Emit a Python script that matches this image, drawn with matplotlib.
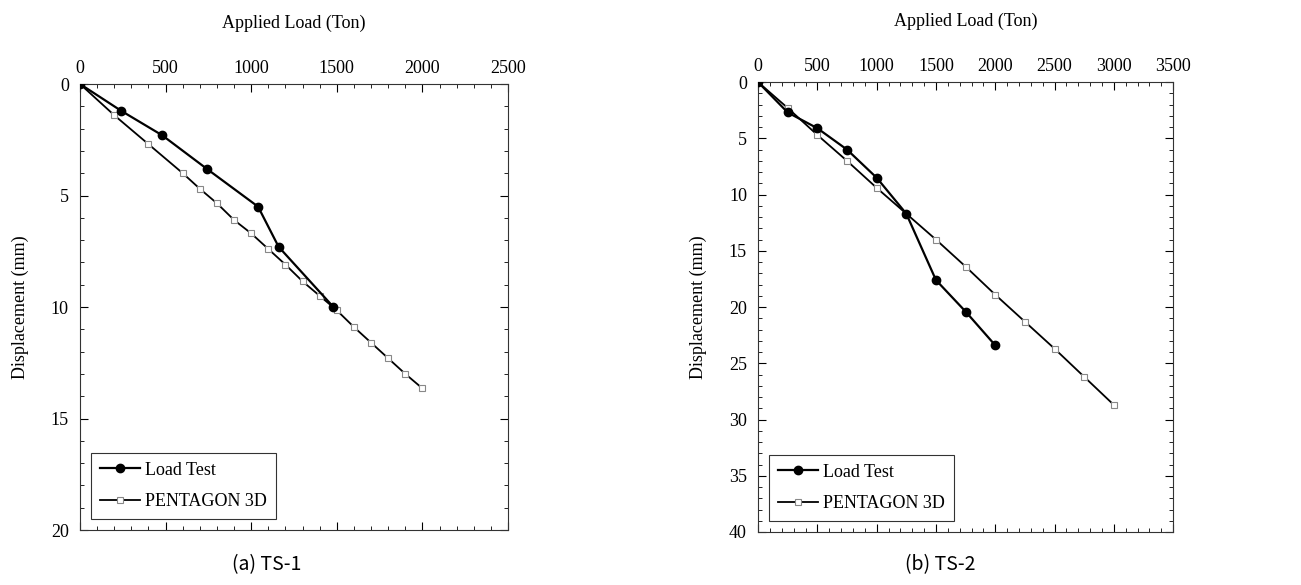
import matplotlib
matplotlib.use("Agg")
from matplotlib import pyplot as plt
from matplotlib.ticker import MultipleLocator

# TS-1 load test and PENTAGON 3D results
ts1_test_load = [0, 240, 480, 740, 1040, 1160, 1480]
ts1_test_disp = [0, 1.2, 2.3, 3.8, 5.5, 7.3, 10.0]
ts1_fem_load = [0, 200, 400, 600, 700, 800, 900, 1000, 1100, 1200, 1300, 1400,
                1500, 1600, 1700, 1800, 1900, 2000]
ts1_fem_disp = [0, 1.4, 2.7, 4.0, 4.7, 5.35, 6.1, 6.7, 7.4, 8.1, 8.85, 9.5,
                10.15, 10.9, 11.6, 12.3, 13.0, 13.65]

# TS-2 load test and PENTAGON 3D results
ts2_test_load = [0, 250, 500, 750, 1000, 1250, 1500, 1750, 2000]
ts2_test_disp = [0, 2.7, 4.1, 6.0, 8.5, 11.7, 17.6, 20.4, 23.4]
ts2_fem_load = [0, 250, 500, 750, 1000, 1250, 1500, 1750, 2000, 2250, 2500, 2750, 3000]
ts2_fem_disp = [0, 2.3, 4.7, 7.0, 9.4, 11.7, 14.0, 16.4, 18.9, 21.3, 23.7, 26.2, 28.7]

plt.rcParams['font.family'] = ['Liberation Serif', 'DejaVu Serif']
plt.rcParams['font.size'] = 13

fig = plt.figure(figsize=(13.01, 5.85), dpi=100)
ax1 = fig.add_axes([0.0615, 0.094, 0.329, 0.7624])
ax2 = fig.add_axes([0.5827, 0.0906, 0.319, 0.769])


def setup(ax, test_load, test_disp, fem_load, fem_disp, xmax, ymax, ystep, caption, cx):
    ax.plot(test_load, test_disp, color='black', linewidth=1.6, marker='o',
            markersize=6, markerfacecolor='black', label='Load Test', zorder=3)
    ax.plot(fem_load, fem_disp, color='black', linewidth=1.3, marker='s',
            markersize=5, markerfacecolor='white', markeredgecolor='#888888',
            markeredgewidth=0.8, label='PENTAGON 3D', zorder=2)
    ax.set_xlim(0, xmax)
    ax.set_ylim(ymax, 0)
    ax.xaxis.set_major_locator(MultipleLocator(500))
    ax.xaxis.set_minor_locator(MultipleLocator(100))
    ax.yaxis.set_major_locator(MultipleLocator(ystep))
    ax.yaxis.set_minor_locator(MultipleLocator(1))
    ax.xaxis.tick_top()
    ax.xaxis.set_label_position('top')
    ax.tick_params(which='both', direction='in', top=True, bottom=True,
                   left=True, right=True, labeltop=True, labelbottom=False)
    ax.tick_params(which='major', length=6, width=0.8, labelsize=13)
    ax.tick_params(axis='y', which='major', pad=8)
    ax.tick_params(axis='x', which='major', pad=5)
    ax.tick_params(which='minor', length=3, width=0.6)
    for s in ax.spines.values():
        s.set_linewidth(0.8)
        s.set_color('#333333')
    ax.set_xlabel('Applied Load (Ton)', fontsize=13, labelpad=23)
    ax.set_ylabel('Displacement (mm)', fontsize=13, labelpad=16)
    leg = ax.legend(loc='lower left', fontsize=13, frameon=True, fancybox=False,
                    edgecolor='black', handlelength=2.2, handletextpad=0.3,
                    borderpad=0.5, labelspacing=0.8, borderaxespad=0.6)
    leg.get_frame().set_linewidth(0.8)
    fig.text(cx, 0.034, caption, ha='center', va='center', fontsize=14,
             family=['Noto Sans CJK KR', 'DejaVu Sans'])


setup(ax1, ts1_test_load, ts1_test_disp, ts1_fem_load, ts1_fem_disp,
      2500, 20, 5, '(a) TS-1', 0.205)
setup(ax2, ts2_test_load, ts2_test_disp, ts2_fem_load, ts2_fem_disp,
      3500, 40, 5, '(b) TS-2', 0.723)

fig.savefig('out.png', dpi=100)
